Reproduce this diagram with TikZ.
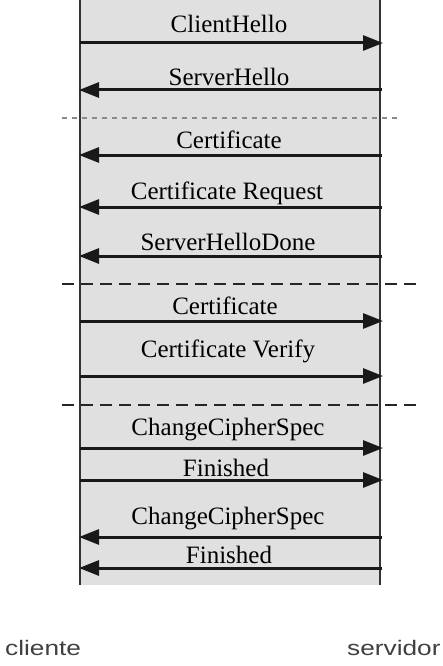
\documentclass[tikz,border=0pt]{standalone}
\usepackage{fontspec}
\usepackage{graphicx}
\setmainfont{Liberation Serif}
\newfontfamily\lblsans{Liberation Sans}
\usetikzlibrary{arrows.meta}
\definecolor{bgray}{HTML}{E0E0E0}
\definecolor{dgray}{HTML}{8A8A8A}
\tikzset{
  msg/.style={line width=3pt, draw=black!90, -{Triangle[length=20pt,width=15pt]}, shorten >=-1pt},
  lifeline/.style={line width=1.6pt, draw=black!80},
  sep/.style={line width=2pt, draw=black!85, dash pattern=on 12pt off 7pt},
  sepgray/.style={line width=2.2pt, draw=dgray, dash pattern=on 5pt off 5pt},
  lbl/.style={anchor=base, inner sep=0pt, font=\fontsize{25}{30}\selectfont, text=black},
  role/.style={anchor=base west, inner sep=0pt, font=\lblsans\fontsize{21}{25}\selectfont, text=black!75}
}
\begin{document}
\begin{tikzpicture}[x=1pt,y=-1pt]
\useasboundingbox (0,0) rectangle (442,666);
\fill[bgray] (80,0) rectangle (380,585);
% lifelines
\coordinate (ctop) at (80,0);
\coordinate (cbot) at (80,585);
\coordinate (stop) at (380,0);
\coordinate (sbot) at (380,585);
\draw[lifeline] (ctop) -- (cbot);
\draw[lifeline] (stop) -- (sbot);
% separators
\coordinate (d1l) at (62,118); \coordinate (d1r) at (400,118);
\coordinate (d2l) at (62,284); \coordinate (d2r) at (418,284);
\coordinate (d3l) at (62,405); \coordinate (d3r) at (418,405);
\draw[sepgray] (d1l) -- (d1r);
\draw[sep] (d2l) -- (d2r);
\draw[sep] (d3l) -- (d3r);
% message end points
\foreach \n/\y in {1/43,2/90,3/155,4/207,5/256,6/321,7/376,8/448,9/480,10/537,11/568}{
  \coordinate (c\n) at (80,\y);
  \coordinate (s\n) at (382,\y);
}
% messages
\draw[msg] (c1) -- (s1);
\draw[msg] (s2) -- (c2);
\draw[msg] (s3) -- (c3);
\draw[msg] (s4) -- (c4);
\draw[msg] (s5) -- (c5);
\draw[msg] (c6) -- (s6);
\draw[msg] (c7) -- (s7);
\draw[msg] (c8) -- (s8);
\draw[msg] (c9) -- (s9);
\draw[msg] (s10) -- (c10);
\draw[msg] (s11) -- (c11);
% labels
\node[lbl] (l1) at (229,33) {ClientHello};
\node[lbl] (l2) at (229,86) {ServerHello};
\node[lbl] (l3) at (229,148) {Certificate};
\node[lbl] (l4) at (227,199) {Certificate Request};
\node[lbl] (l5) at (228,250) {ServerHelloDone};
\node[lbl] (l6) at (225,314) {Certificate};
\node[lbl] (l7) at (228,357) {Certificate Verify};
\node[lbl] (l8) at (228,435) {ChangeCipherSpec};
\node[lbl] (l9) at (226,476) {Finished};
\node[lbl] (l10) at (228,524) {ChangeCipherSpec};
\node[lbl] (l11) at (229,563) {Finished};
% roles
\node[role] (cli) at (5,655) {\scalebox{1.25}[1]{cliente}};
\node[role] (srv) at (347,655) {\scalebox{1.25}[1]{servidor}};
\end{tikzpicture}
\end{document}
